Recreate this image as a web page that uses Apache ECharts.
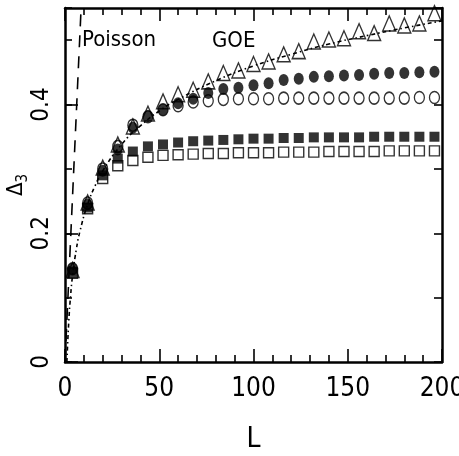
<!DOCTYPE html>
<html>
<head>
<meta charset="utf-8">
<script src="https://cdn.jsdelivr.net/npm/echarts@6/dist/echarts.min.js"></script>
<style>
html,body{margin:0;padding:0;background:#fff;}
#chart{width:459px;height:456px;}
</style>
</head>
<body>
<div id="chart"></div>
<script>
// ---- data ----
const L = [4,12,20,28,36,44,52,60,68,76,84,92,100,108,116,124,132,140,148,156,164,172,180,188,196];
const openTriangles = [0.143,0.248,0.302,0.338,0.366,0.386,0.405,0.416,0.423,0.436,0.449,0.453,0.463,0.467,0.478,0.483,0.498,0.501,0.503,0.514,0.511,0.526,0.523,0.526,0.542];
const filledCircles = [0.145,0.245,0.297,0.330,0.364,0.382,0.392,0.402,0.409,0.418,0.424,0.426,0.430,0.433,0.438,0.440,0.443,0.444,0.445,0.446,0.448,0.449,0.449,0.450,0.451];
const openCircles = [0.145,0.247,0.300,0.335,0.368,0.381,0.392,0.398,0.404,0.406,0.408,0.409,0.409,0.409,0.410,0.410,0.410,0.410,0.410,0.410,0.410,0.410,0.410,0.411,0.411];
const filledSquares = [0.140,0.240,0.290,0.316,0.327,0.335,0.338,0.341,0.343,0.344,0.345,0.346,0.347,0.347,0.348,0.348,0.349,0.349,0.349,0.349,0.350,0.350,0.350,0.350,0.350];
const openSquares = [0.138,0.238,0.285,0.305,0.313,0.318,0.321,0.322,0.323,0.324,0.324,0.325,0.325,0.325,0.326,0.326,0.326,0.327,0.327,0.327,0.327,0.328,0.328,0.328,0.328];
// GOE curve (dash-dot)
const goeL = [1,2,3,4,6,8,12,16,20,30,40,50,60,80,100,120,140,160,180,200];
const goeV = [0.000,0.063,0.104,0.134,0.175,0.204,0.245,0.274,0.297,0.338,0.367,0.390,0.408,0.437,0.460,0.478,0.494,0.507,0.519,0.530];
// Poisson line (dashed)
const poissonL = [0, 8.7];
const poissonV = [0, 0.56];
const xTicks = [0,50,100,150,200];
const yTicks = [0,0.2,0.4];

const FONT = '"Liberation Sans Narrow","DejaVu Sans Condensed","Liberation Sans",Arial,sans-serif';
const zip = (a,b) => a.map((v,i)=>[v,b[i]]);
const black = '#000';

const xBase = {
  type:'value', min:xTicks[0], max:xTicks[xTicks.length-1], interval:50,
  axisLine:{onZero:false, lineStyle:{color:black,width:2.5}},
  axisTick:{inside:true,length:13,lineStyle:{color:black,width:1.6}},
  minorTick:{show:true,splitNumber:5,length:7,lineStyle:{color:black,width:1.6}},
  splitLine:{show:false}
};
const yBase = {
  type:'value', min:0, max:0.55,
  axisLine:{onZero:false, lineStyle:{color:black,width:2.5}},
  splitLine:{show:false}
};

const scatterStyle = (symbol,size,filled) => ({
  type:'scatter', symbol:symbol, symbolSize:size,
  itemStyle: filled ? {color:black, borderColor:black, borderWidth:0}
                    : {color:'transparent', borderColor:black, borderWidth:1.4},
  emphasis:{disabled:true}
});

const chart = echarts.init(document.getElementById('chart'), null, {renderer:'canvas'});
chart.setOption({
  animation:false,
  backgroundColor:'#fff',
  grid:{left:65,right:17,top:8,bottom:94,containLabel:false,outerBoundsMode:'none'},
  xAxis:[
    Object.assign({}, xBase, {position:'bottom',
      axisLabel:{color:black,fontSize:26,fontFamily:FONT,margin:14},
      name:'L', nameLocation:'middle', nameGap:64, nameMoveOverlap:false,
      nameTextStyle:{color:black,fontSize:28,fontFamily:FONT}}),
    Object.assign({}, xBase, {position:'top', axisLabel:{show:false}})
  ],
  yAxis:[
    Object.assign({}, yBase, {position:'left', interval:0.2,
      axisTick:{inside:true,length:13,lineStyle:{color:black,width:1.6}},
      axisLabel:{color:black,fontSize:24,fontFamily:FONT,rotate:90,margin:11,
        showMaxLabel:false, formatter:v => yTicks.some(t=>Math.abs(t-v)<1e-6) ? String(v) : ''},
      name:'{a|Δ}{b|3}', nameLocation:'middle', nameRotate:90, nameGap:34, nameMoveOverlap:false,
      nameTextStyle:{color:black,fontFamily:FONT,
        rich:{a:{fontSize:22,lineHeight:30,fontFamily:FONT,color:black},
              b:{fontSize:15,lineHeight:15,verticalAlign:'bottom',fontFamily:FONT,color:black}}}}),
    Object.assign({}, yBase, {position:'left', interval:0.1,
      axisLine:{show:false},
      axisTick:{inside:true,length:7,lineStyle:{color:black,width:1.6}},
      axisLabel:{show:false}}),
    Object.assign({}, yBase, {position:'right', interval:0.1,
      axisTick:{inside:true,length:8,lineStyle:{color:black,width:1.6}},
      axisLabel:{show:false}})
  ],
  series:[
    Object.assign(scatterStyle('rect',[10,10],false), {data:zip(L,openSquares)}),
    Object.assign(scatterStyle('rect',[10,10],true), {data:zip(L,filledSquares)}),
    Object.assign(scatterStyle('circle',[10,12],false), {data:zip(L,openCircles)}),
    Object.assign(scatterStyle('circle',[10,12],true), {data:zip(L,filledCircles)}),
    Object.assign(scatterStyle('triangle',[13,15],false), {data:zip(L,openTriangles)}),
    {type:'line', data:zip(goeL,goeV), smooth:true, showSymbol:false, symbol:'none',
     lineStyle:{color:black,width:1.6,type:[4,3,1.5,3]}, emphasis:{disabled:true}},
    {type:'line', data:zip(poissonL,poissonV), showSymbol:false, symbol:'none',
     lineStyle:{color:black,width:1.6,type:[12,9]}, emphasis:{disabled:true}}
  ],
  graphic:[
    {type:'text', left:82, top:29, style:{text:'Poisson', fill:black, font:'22px '+FONT}},
    {type:'text', left:212, top:30, style:{text:'GOE', fill:black, font:'22px '+FONT}}
  ]
});
</script>
</body>
</html>
